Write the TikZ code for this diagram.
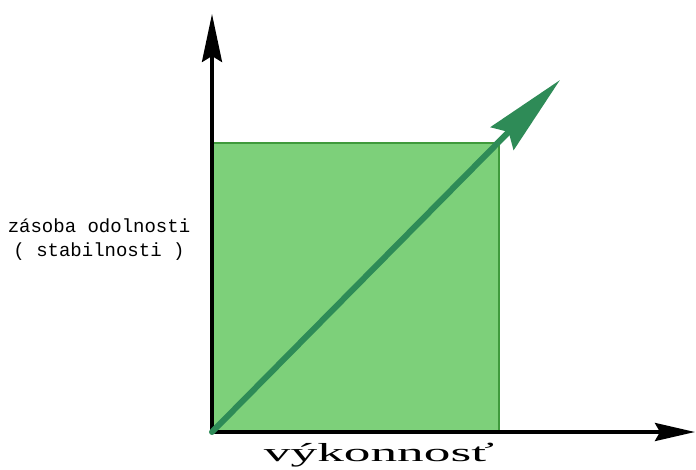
\documentclass[tikz,border=0pt]{standalone}
\usepackage{fontspec}
\usetikzlibrary{arrows.meta}
\newfontfamily\monofnt{Liberation Mono}
\newfontfamily\seriffnt{Liberation Serif}
\definecolor{boxfill}{HTML}{7DD07A}
\definecolor{boxline}{HTML}{3F9A3C}
\definecolor{arrgreen}{HTML}{2E8B57}
\tikzset{
  axisline/.style={line width=3.5pt, black},
  lbl/.style={inner sep=0pt, align=center},
}
\begin{document}
\begin{tikzpicture}[x=1pt,y=-1pt]
\useasboundingbox (0,0) rectangle (696,470);
\coordinate (o) at (212,432);
\coordinate (ytop) at (212,14);
\coordinate (xend) at (695,432);
\coordinate (atip) at (560,80);
\node[draw=boxline, fill=boxfill, line width=1.5pt, minimum width=286pt, minimum height=287pt, anchor=south west, inner sep=0pt] (box) at (212,431) {};
\draw[axisline, -{Stealth[length=48pt,width=20pt,inset=6pt]}] (o) -- (ytop);
\draw[axisline, -{Stealth[length=40pt,width=18pt,inset=5pt]}] ([xshift=-1.75pt]o) -- (xend);
\draw[arrgreen, line width=6pt, line cap=round, -{Stealth[length=82pt,width=32pt,inset=9pt]}] (o) -- (atip);
\node[lbl, font=\monofnt\fontsize{19}{24}\selectfont] (ylabel) at (99,240) {zásoba odolnosti\\( stabilnosti )};
\node[lbl, font=\seriffnt\fontsize{26}{30}\selectfont] (xlabel) at (379,455) {\scalebox{2.05}[1]{výkonnosť}};
\end{tikzpicture}
\end{document}
